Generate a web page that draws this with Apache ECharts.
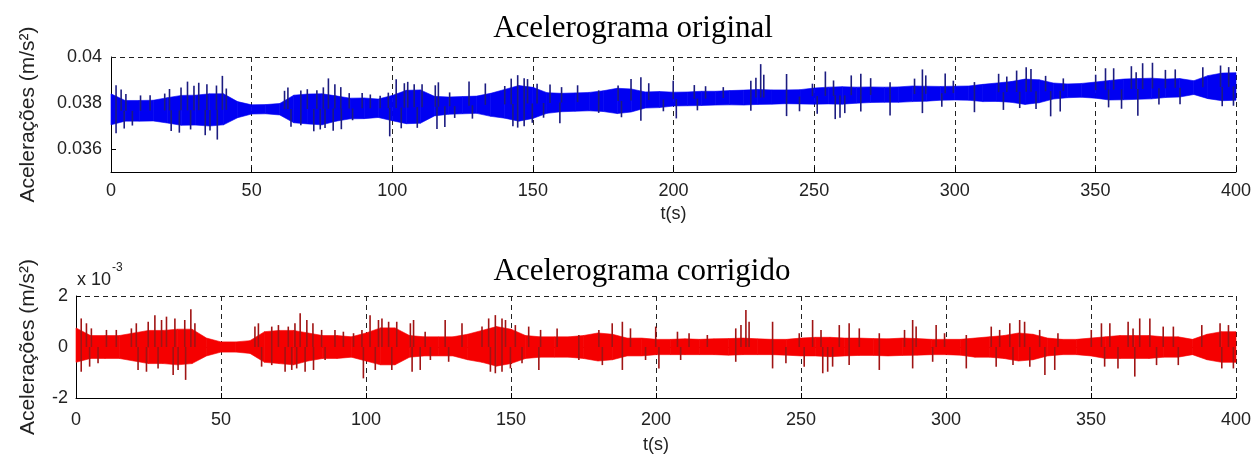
<!DOCTYPE html>
<html>
<head>
<meta charset="utf-8">
<script src="https://cdn.jsdelivr.net/npm/echarts@6/dist/echarts.min.js"></script>
<style>
html, body { margin: 0; background: #fff; }
#main { width: 1260px; height: 460px; }
</style>
</head>
<body>
<div id="main"></div>
<script>
// envelope of the dense part of the record, x 10^-3 m/s2, one sample every 5 s (0..400 s)
var step = 5;
var bandUpper = [0.75,0.45,0.45,0.45,0.55,0.65,0.65,0.7,0.7,0.35,0.2,0.2,0.25,0.6,0.65,0.65,0.55,0.45,0.45,0.4,
  0.55,0.75,0.75,0.45,0.4,0.4,0.4,0.5,0.65,0.8,0.7,0.45,0.4,0.4,0.4,0.45,0.55,0.5,0.35,0.35,
  0.3,0.3,0.32,0.3,0.32,0.33,0.35,0.32,0.3,0.3,0.35,0.38,0.38,0.35,0.35,0.33,0.32,0.35,0.33,0.3,
  0.3,0.3,0.35,0.4,0.45,0.55,0.5,0.35,0.3,0.3,0.35,0.4,0.45,0.45,0.45,0.4,0.4,0.3,0.5,0.6,0.6];
var bandLower = [-0.6,-0.45,-0.45,-0.45,-0.55,-0.65,-0.65,-0.7,-0.65,-0.35,-0.2,-0.2,-0.25,-0.6,-0.65,-0.7,-0.55,-0.45,-0.45,-0.4,
  -0.55,-0.7,-0.7,-0.4,-0.35,-0.35,-0.35,-0.5,-0.6,-0.75,-0.65,-0.45,-0.4,-0.4,-0.4,-0.45,-0.55,-0.5,-0.35,-0.35,
  -0.3,-0.3,-0.3,-0.3,-0.3,-0.32,-0.3,-0.3,-0.3,-0.32,-0.35,-0.35,-0.38,-0.35,-0.33,-0.33,-0.35,-0.33,-0.32,-0.3,
  -0.3,-0.32,-0.4,-0.4,-0.45,-0.55,-0.5,-0.35,-0.3,-0.3,-0.35,-0.45,-0.45,-0.45,-0.45,-0.4,-0.4,-0.3,-0.5,-0.6,-0.6];
// slow drift of the uncorrected record, m/s2, same 5 s samples
var trend = [0.03765,0.03766,0.03766,0.03767,0.03768,0.03768,0.03769,0.0377,0.0377,0.03771,0.03772,
  0.03773,0.03773,0.03774,0.03774,0.03775,0.03776,0.03776,0.03777,0.03777,0.03778,
  0.0378,0.03782,0.03784,0.03786,0.03788,0.0379,0.03792,0.03794,0.03796,0.03798,
  0.038,0.03802,0.03804,0.03806,0.03808,0.03809,0.03811,0.03813,0.03815,0.03817,
  0.03818,0.03819,0.03821,0.03822,0.03823,0.03824,0.03825,0.03827,0.03828,0.0383,
  0.03831,0.03833,0.03834,0.03835,0.03836,0.03838,0.03839,0.0384,0.03842,0.03843,
  0.03844,0.03846,0.03847,0.03848,0.03849,0.03851,0.03852,0.03853,0.03855,0.03856,
  0.03858,0.03859,0.03861,0.03863,0.03864,0.03866,0.03867,0.03869,0.0387,0.03872];
// isolated peaks sticking out of the band: [t (s), x 10^-3 m/s2]
var peaksUp = [[1.8,1.12],[3.6,0.93],[5.3,0.73],[10.5,0.67],[13.9,0.67],[19.1,0.73],[20.8,0.93],[24.9,0.99],[27.2,1.25],[29.5,1.06],
  [31.2,1.19],[34.1,1.12],[37.5,1.06],[39.6,1.48],[41.0,0.93],[61.7,0.8],[62.9,0.93],[67.5,0.8],[69.8,0.86],[73.2,0.8],
  [75.5,0.93],[77.3,1.32],[79.6,1.06],[81.7,0.93],[84.7,0.67],[89.3,0.67],[92.2,0.6],[95.7,0.54],[98.6,0.67],[101.4,1.25],
  [104.3,1.06],[105.5,1.12],[107.8,0.99],[110.6,0.99],[115.3,0.93],[116.4,1.06],[120.4,0.6],[127.3,1.06],[133.1,0.93],[140.0,0.8],
  [142.3,1.12],[144.6,1.25],[146.9,1.12],[148.1,1.06],[151.5,0.86],[156.1,0.8],[160.2,0.67],[165.9,0.73],[173.4,0.47],[180.3,0.67],
  [184.9,0.93],[188.4,0.99],[191.2,0.73],[199.9,0.8],[207.4,0.6],[211.4,0.54],[217.7,0.47],[227.5,0.73],[229.3,0.86],[231.0,1.45],
  [232.1,0.99],[240.2,0.99],[249.4,0.54],[254.0,1.06],[256.9,0.67],[263.2,0.86],[266.6,0.93],[270.1,0.73],[277.0,0.54],[285.7,0.67],
  [288.5,1.06],[289.7,0.8],[296.6,0.86],[299.5,0.54],[307.0,0.47],[315.6,0.8],[318.5,0.67],[322.0,0.93],[325.4,1.06],[327.1,0.99],
  [332.3,0.67],[338.6,0.54],[350.1,0.67],[353.6,0.93],[356.5,0.93],[362.8,0.99],[364.5,0.73],[366.8,1.12],[370.3,1.12],[374.9,0.8],
  [378.4,0.8],[388.2,0.86],[394.5,0.93],[397.4,0.86]];
var peaksDown = [[1.8,-0.97],[4.7,-0.77],[7.6,-0.64],[21.4,-0.9],[24.3,-0.97],[28.3,-0.84],[33.5,-1.1],[35.2,-0.9],[37.8,-1.29],
  [64.0,-0.77],[67.5,-0.71],[72.1,-0.97],[74.4,-0.9],[76.1,-0.84],[79.0,-0.97],[81.9,-0.9],[85.9,-0.51],
  [99.1,-1.23],[103.2,-0.9],[108.9,-0.9],[115.9,-0.97],[118.7,-0.9],[122.2,-0.51],[128.5,-0.58],[142.9,-0.97],[144.6,-1.03],
  [146.9,-0.97],[149.8,-0.84],[153.8,-0.64],[159.6,-0.9],[173.4,-0.51],[181.5,-0.71],[188.4,-0.9],[196.4,-0.51],
  [201.0,-0.84],[208.5,-0.51],[227.5,-0.58],[240.2,-0.84],[244.8,-0.64],[251.1,-0.77],[257.5,-1.03],[259.2,-0.97],[260.9,-0.77],
  [266.6,-0.71],[277.0,-0.9],[288.5,-0.84],[295.4,-0.58],[307.0,-0.84],[317.3,-0.77],[323.1,-0.71],[328.9,-0.77],[334.1,-1.1],
  [337.5,-0.9],[354.7,-0.77],[359.3,-0.84],[365.1,-1.16],[372.6,-0.71],[380.1,-0.71],[395.1,-0.84],[399.1,-0.84]];
var topTicks = [0.036, 0.038, 0.04];

var labelFont = 'Liberation Sans';
var peaks = peaksUp.concat(peaksDown);

// one band segment per pair of neighbouring samples: [t0, lo0, hi0, t1, lo1, hi1]
var origBand = [], corrBand = [];
for (var i = 0; i + 1 < bandUpper.length; i++) {
  var t0 = i * step, t1 = (i + 1) * step;
  origBand.push([t0, trend[i] + bandLower[i] * 0.001, trend[i] + bandUpper[i] * 0.001,
    t1, trend[i + 1] + bandLower[i + 1] * 0.001, trend[i + 1] + bandUpper[i + 1] * 0.001]);
  corrBand.push([t0, bandLower[i], bandUpper[i], t1, bandLower[i + 1], bandUpper[i + 1]]);
}
var origPeaks = peaks.map(function (p) {
  var base = trend[Math.round(p[0] / step)];
  return [p[0], base, base + p[1] * 0.001];
});
var corrPeaks = peaks.map(function (p) { return [p[0], 0, p[1]]; });

function bandItem(params, api) {
  var a = api.coord([api.value(0), api.value(1)]);
  var b = api.coord([api.value(0), api.value(2)]);
  var c = api.coord([api.value(3), api.value(5)]);
  var d = api.coord([api.value(3), api.value(4)]);
  var col = api.visual('color');
  return {
    type: 'polygon',
    shape: { points: [a, b, c, d] },
    style: { fill: col, stroke: col, lineWidth: 0.6 }
  };
}

function peakItem(params, api) {
  var a = api.coord([api.value(0), api.value(1)]);
  var b = api.coord([api.value(0), api.value(2)]);
  return {
    type: 'line',
    shape: { x1: a[0], y1: a[1], x2: b[0], y2: b[1] },
    style: { stroke: api.visual('color'), lineWidth: 1.6 }
  };
}

var dashed = { type: [5, 4], color: '#222', width: 1 };

function xAxis(grid) {
  return {
    type: 'value', gridIndex: grid, min: 0, max: 400, interval: 50,
    name: 't(s)', nameLocation: 'middle', nameGap: grid === 0 ? 33 : 38,
    nameTextStyle: { fontFamily: labelFont, fontSize: 18, color: '#222' },
    axisLine: { show: true, onZero: false, lineStyle: { color: '#000', width: 1 } },
    axisTick: { show: true, inside: true, length: 5, lineStyle: { color: '#000' } },
    axisLabel: { fontFamily: labelFont, fontSize: 18, color: '#222', margin: grid === 0 ? 10 : 13 },
    splitLine: { show: true, lineStyle: dashed }
  };
}

var myChart = echarts.init(document.getElementById('main'));
var option = {
  animation: false,
  backgroundColor: '#fff',
  title: [
    { text: 'Acelerograma original', left: 633, top: 13, textAlign: 'center', padding: 0,
      textStyle: { fontFamily: 'Liberation Serif', fontSize: 31, fontWeight: 'normal', color: '#000' } },
    { text: 'Acelerograma corrigido', left: 642, top: 256, textAlign: 'center', padding: 0,
      textStyle: { fontFamily: 'Liberation Serif', fontSize: 31, fontWeight: 'normal', color: '#000' } }
  ],
  graphic: [
    { type: 'text', left: 77, top: 271, style: { text: 'x 10', font: '18px "Liberation Sans"', fill: '#222' } },
    { type: 'text', left: 112, top: 262, style: { text: '-3', font: '12px "Liberation Sans"', fill: '#222' } }
  ],
  grid: [
    { left: 111, right: 24, top: 57, height: 115 },
    { left: 76, right: 24, top: 296, height: 102 }
  ],
  xAxis: [xAxis(0), xAxis(1)],
  yAxis: [
    {
      type: 'value', gridIndex: 0, min: 0.035, max: 0.04,
      name: 'Acelerações (m/s²)', nameLocation: 'middle', nameGap: 72,
      nameTextStyle: { fontFamily: labelFont, fontSize: 21, color: '#222' },
      axisLine: { show: true, lineStyle: { color: '#000', width: 1 } },
      axisTick: { show: true, inside: true, length: 5, customValues: topTicks, lineStyle: { color: '#000' } },
      axisLabel: { fontFamily: labelFont, fontSize: 18, color: '#222', margin: 9, customValues: topTicks,
        formatter: function (v) { return String(v); } },
      splitLine: { show: false }
    },
    {
      type: 'value', gridIndex: 1, min: -2, max: 2, interval: 2,
      name: 'Acelerações (m/s²)', nameLocation: 'middle', nameGap: 37,
      nameTextStyle: { fontFamily: labelFont, fontSize: 21, color: '#222' },
      axisLine: { show: true, lineStyle: { color: '#000', width: 1 } },
      axisTick: { show: true, inside: true, length: 5, lineStyle: { color: '#000' } },
      axisLabel: { fontFamily: labelFont, fontSize: 18, color: '#222', margin: 8 },
      splitLine: { show: true, lineStyle: dashed }
    }
  ],
  series: [
    {
      type: 'custom', xAxisIndex: 0, yAxisIndex: 0, data: origBand, renderItem: bandItem,
      encode: { x: [0, 3], y: [1, 2, 4, 5] }, itemStyle: { color: '#0000f2' }, z: 2,
      markLine: {
        silent: true, symbol: ['none', 'none'], label: { show: false }, z: 1,
        lineStyle: dashed, data: topTicks.map(function (v) { return { yAxis: v }; })
      }
    },
    {
      type: 'custom', xAxisIndex: 0, yAxisIndex: 0, data: origPeaks, renderItem: peakItem,
      encode: { x: 0, y: [1, 2] }, itemStyle: { color: '#1c1c80' }, z: 3
    },
    {
      type: 'custom', xAxisIndex: 1, yAxisIndex: 1, data: corrBand, renderItem: bandItem,
      encode: { x: [0, 3], y: [1, 2, 4, 5] }, itemStyle: { color: '#f50000' }, z: 2
    },
    {
      type: 'custom', xAxisIndex: 1, yAxisIndex: 1, data: corrPeaks, renderItem: peakItem,
      encode: { x: 0, y: [1, 2] }, itemStyle: { color: '#a01414' }, z: 3
    }
  ]
};

if (option && typeof option === 'object') {
  myChart.setOption(option);
}
</script>
</body>
</html>
